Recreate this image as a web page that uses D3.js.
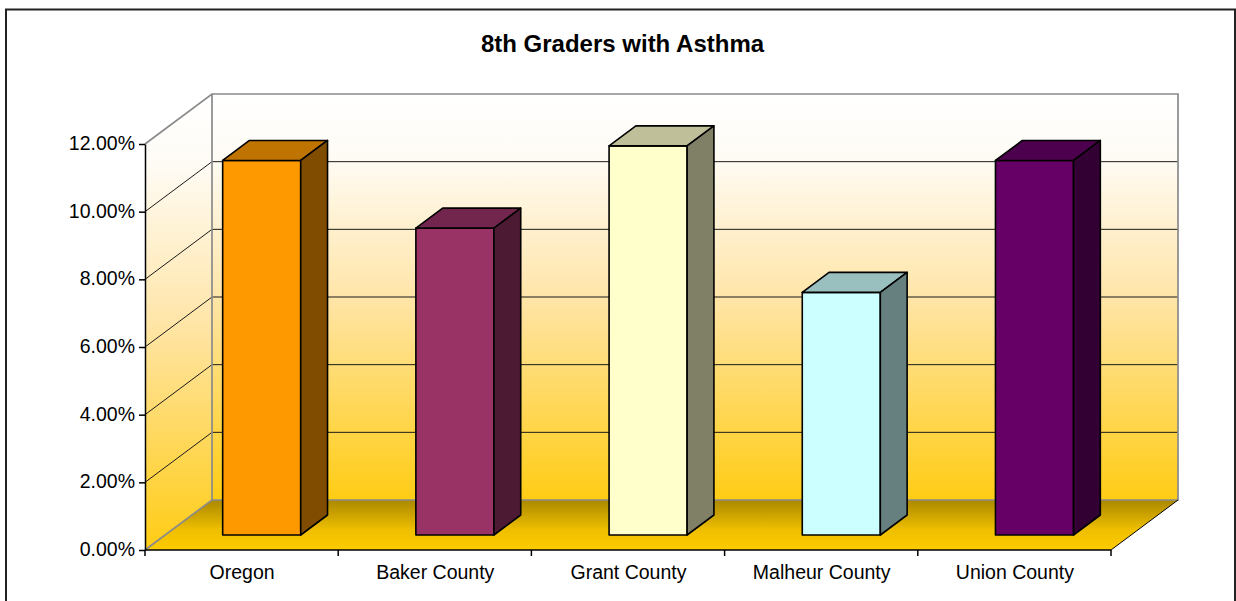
<!DOCTYPE html>
<meta charset="utf-8">
<style>
 body { margin: 0; background: #fff; }
 svg { display: block; }
 text { font-family: 'Liberation Sans', Arial, sans-serif; fill: #000; }
 .title { font-size: 24px; font-weight: bold; }
 .axis text { font-size: 19.5px; }
 .axis path, .axis line { stroke: #000; stroke-width: 1.5; }
 .wall { stroke: none; }
 .edge { stroke: #8a8a8a; stroke-width: 1.7; fill: none; }
 .grid { stroke: #1a1a1a; stroke-width: 1; fill: none; }
 .bars path { stroke: #000; stroke-width: 1.6; stroke-linejoin: round; }
</style>
<body>
<script src="https://d3js.org/d3.v7.min.js"></script>
<script>

var categories = ["Oregon", "Baker County", "Grant County", "Malheur County", "Union County"];
var values = [11.07, 9.07, 11.5, 7.17, 11.07];
var yTicks = [0, 2, 4, 6, 8, 10, 12];
var barColors = ["#ff9900", "#993366", "#ffffcc", "#ccffff", "#660066"];

var width = 1236,
    height = 601;

var x = d3.scaleBand()
    .domain(categories)
    .range([145, 1111])
    .paddingInner(0.596)
    .paddingOuter(0.298);

var y = d3.scaleLinear()
    .domain([0, 12])
    .range([550, 144]);

// how far back into the box a point sits, 0 = front edge, 1 = back wall
var depthX = d3.scaleLinear().domain([0, 1]).range([0, 67]);
var depthY = d3.scaleLinear().domain([0, 1]).range([0, 50]);

var barFront = 0.3,
    barBack = 0.7;

function pt(px, val, depth) {
  return [px + depthX(depth), y(val) - depthY(depth)];
}

function poly(points) {
  return "M" + points.map(p => p.join(",")).join("L") + "Z";
}

var svg = d3.select("body").append("svg")
    .attr("width", width)
    .attr("height", height);

var defs = svg.append("defs");

function gradient(id, stops) {
  var g = defs.append("linearGradient").attr("id", id)
      .attr("x1", 0).attr("y1", 0).attr("x2", 0).attr("y2", 1);
  stops.forEach(s => g.append("stop").attr("offset", s[0]).attr("stop-color", s[1]));
}

gradient("wallFill", [[0, "#ffffff"], [0.15, "#fffcf6"], [0.5, "#ffe5a8"], [1, "#ffcc14"]]);
gradient("floorFill", [[0, "#ab8800"], [0.6, "#efbf00"], [1, "#fdcb00"]]);

// chart frame, runs off the bottom of the window
svg.append("path")
    .attr("d", "M6,610V9.5H1235V610")
    .attr("fill", "#fff")
    .attr("stroke", "#222")
    .attr("stroke-width", 2);

svg.append("text")
    .attr("class", "title")
    .attr("x", 622.5)
    .attr("y", 52)
    .attr("text-anchor", "middle")
    .text("8th Graders with Asthma");

var left = x.range()[0],
    right = x.range()[1];

// back wall, side wall, floor
svg.append("path").attr("class", "wall").attr("fill", "url(#wallFill)")
    .attr("d", poly([pt(left, 12, 1), pt(right, 12, 1), pt(right, 0, 1), pt(left, 0, 1)]));

svg.append("path").attr("class", "wall").attr("fill", "url(#wallFill)")
    .attr("d", poly([pt(left, 12, 0), pt(left, 12, 1), pt(left, 0, 1), pt(left, 0, 0)]));

svg.append("path").attr("class", "wall").attr("fill", "url(#floorFill)")
    .attr("d", poly([pt(left, 0, 1), pt(right, 0, 1), pt(right, 0, 0), pt(left, 0, 0)]));

// gridlines bend round the corner from the side wall on to the back wall
svg.append("g").selectAll("path")
    .data(yTicks.filter(d => d > 0 && d < 12))
  .enter().append("path")
    .attr("class", "grid")
    .attr("d", d => d3.line()([pt(left, d, 0), pt(left, d, 1), pt(right, d, 1)]));

svg.append("path")
    .attr("class", "edge")
    .attr("d", d3.line()([pt(left, 12, 0), pt(left, 12, 1), pt(right, 12, 1), pt(right, 0, 1), pt(left, 0, 1), pt(left, 0, 0)]));

svg.append("path")
    .attr("class", "edge")
    .attr("d", d3.line()([pt(left, 12, 1), pt(left, 0, 1)]));

svg.append("path")
    .attr("fill", "none")
    .attr("stroke", "#000")
    .attr("d", d3.line()([pt(right, 0, 1), pt(right, 0, 0)]));

var bars = svg.append("g").attr("class", "bars")
    .selectAll("g")
    .data(categories)
  .enter().append("g");

bars.each(function(c, i) {
  var g = d3.select(this),
      x0 = x(c),
      x1 = x0 + x.bandwidth(),
      v = values[i],
      col = d3.rgb(barColors[i]);

  var shade = k => d3.rgb(col.r * k, col.g * k, col.b * k).formatHex();

  g.append("path").attr("fill", barColors[i])
      .attr("d", poly([pt(x0, v, barFront), pt(x1, v, barFront), pt(x1, 0, barFront), pt(x0, 0, barFront)]));
  g.append("path").attr("fill", shade(0.75))
      .attr("d", poly([pt(x0, v, barFront), pt(x0, v, barBack), pt(x1, v, barBack), pt(x1, v, barFront)]));
  g.append("path").attr("fill", shade(0.5))
      .attr("d", poly([pt(x1, v, barFront), pt(x1, v, barBack), pt(x1, 0, barBack), pt(x1, 0, barFront)]));
});

var yAxisG = svg.append("g")
    .attr("class", "axis")
    .attr("transform", "translate(" + left + ",0)")
    .call(d3.axisLeft(y)
      .tickValues(yTicks)
      .tickSize(6)
      .tickSizeOuter(0)
      .tickPadding(4)
      .tickFormat(d => d.toFixed(2) + "%"));

yAxisG.selectAll("text").attr("dy", "0.28em");

// category ticks fall on the band edges, labels on the band centres
var xAxisG = svg.append("g")
    .attr("class", "axis")
    .attr("transform", "translate(0," + y(0) + ")");

xAxisG.append("path").attr("d", "M" + left + ",0H" + right);

xAxisG.selectAll("line")
    .data(d3.range(categories.length + 1))
  .enter().append("line")
    .attr("x1", i => left + i * x.step())
    .attr("x2", i => left + i * x.step())
    .attr("y2", 6);

xAxisG.selectAll("text")
    .data(categories)
  .enter().append("text")
    .attr("x", c => x(c) + x.bandwidth() / 2 + 0.5)
    .attr("y", 29)
    .attr("text-anchor", "middle")
    .text(c => c);

</script>
